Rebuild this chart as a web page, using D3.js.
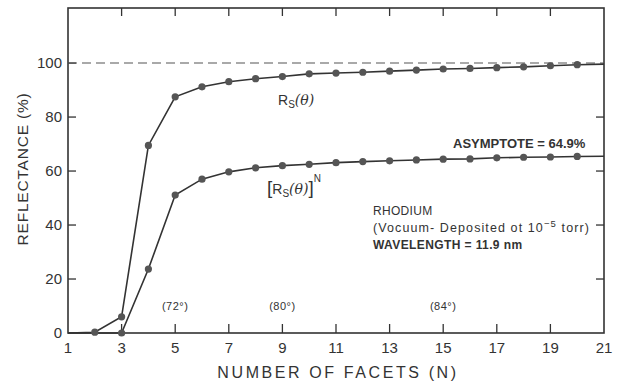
<!DOCTYPE html>
<html>
<head>
<meta charset="utf-8">
<script src="https://cdn.jsdelivr.net/npm/d3@7"></script>
<style>
  body { margin: 0; background: #fff; }
  svg text { font-family: "Liberation Sans", "DejaVu Sans", sans-serif; fill: #333; }
</style>
</head>
<body>
<script>
// Reflectance of a faceted rhodium mirror vs number of facets
var facets = [1, 2, 3, 4, 5, 6, 7, 8, 9, 10, 11, 12, 13, 14, 15, 16, 17, 18, 19, 20, 21];
// single reflection R_s(theta)
var rsSingle = [0, 0.3, 6, 69.5, 87.5, 91.2, 93.1, 94.2, 95, 96, 96.3, 96.6, 97, 97.4, 97.8, 98, 98.3, 98.6, 99, 99.4, 99.6];
// total reflectance [R_s(theta)]^N
var rsTotal = [0, 0, 0, 23.7, 51.1, 57, 59.7, 61.2, 62, 62.5, 63.1, 63.5, 63.8, 64.1, 64.4, 64.5, 64.9, 65.1, 65.2, 65.4, 65.5];
var markerFacets = [2, 3, 4, 5, 6, 7, 8, 9, 10, 11, 12, 13, 14, 15, 16, 17, 18, 19, 20];
var markerFacetsTotal = [3, 4, 5, 6, 7, 8, 9, 10, 11, 12, 13, 14, 15, 16, 17, 18, 19, 20];
var xTicks = [1, 3, 5, 7, 9, 11, 13, 15, 17, 19, 21];
var yTicks = [0, 20, 40, 60, 80, 100];
var angleLabels = [{n: 5, text: "(72°)"}, {n: 9, text: "(80°)"}, {n: 15, text: "(84°)"}];

var w = 625, h = 384;
// plot box (note: "top" is reserved on window, so prefix names)
var pLeft = 68, pRight = 604, pTop = 8, pBottom = 333;

var svg = d3.select("body").append("svg")
  .attr("width", w)
  .attr("height", h);

var x = d3.scaleLinear().domain([1, 21]).range([pLeft, pRight]);
var y = d3.scaleLinear().domain([0, 120.4]).range([pBottom, pTop]);

var ink = "#333";

// frame
svg.append("rect")
  .attr("x", pLeft).attr("y", pTop)
  .attr("width", pRight - pLeft).attr("height", pBottom - pTop)
  .attr("fill", "none").attr("stroke", ink).attr("stroke-width", 1.6);

// inner ticks on all four sides
var innerX = xTicks.filter(function(d) { return d > 1 && d < 21; });
svg.selectAll("line.bt").data(innerX).enter().append("line")
  .attr("x1", x).attr("x2", x)
  .attr("y1", pBottom).attr("y2", pBottom - 9)
  .attr("stroke", ink).attr("stroke-width", 1.3);
svg.selectAll("line.tt").data(innerX).enter().append("line")
  .attr("x1", x).attr("x2", x)
  .attr("y1", pTop).attr("y2", pTop + 8)
  .attr("stroke", ink).attr("stroke-width", 1.3);
var innerY = yTicks.filter(function(d) { return d > 0; });
svg.selectAll("line.lt").data(innerY).enter().append("line")
  .attr("x1", pLeft).attr("x2", pLeft + 8)
  .attr("y1", y).attr("y2", y)
  .attr("stroke", ink).attr("stroke-width", 1.3);
svg.selectAll("line.rt").data(innerY.filter(function(d) { return d < 100; })).enter().append("line")
  .attr("x1", pRight).attr("x2", pRight - 8)
  .attr("y1", y).attr("y2", y)
  .attr("stroke", ink).attr("stroke-width", 1.3);

// tick labels
svg.selectAll("text.xl").data(xTicks).enter().append("text")
  .attr("x", x).attr("y", pBottom + 20)
  .attr("text-anchor", "middle")
  .attr("font-size", 15)
  .text(function(d) { return d; });
svg.selectAll("text.yl").data(yTicks).enter().append("text")
  .attr("x", pLeft - 6).attr("y", function(d) { return y(d) + 5; })
  .attr("text-anchor", "end")
  .attr("font-size", 15)
  .text(function(d) { return d; });

// axis titles
svg.append("text")
  .attr("x", 338).attr("y", 378)
  .attr("text-anchor", "middle")
  .attr("font-size", 16)
  .attr("letter-spacing", 2.6)
  .text("NUMBER OF FACETS (N)");
svg.append("text")
  .attr("transform", "translate(28,169) rotate(-90)")
  .attr("text-anchor", "middle")
  .attr("font-size", 15.5)
  .attr("letter-spacing", 0.8)
  .text("REFLECTANCE (%)");

// 100% dashed reference
svg.append("line")
  .attr("x1", pLeft).attr("x2", pRight)
  .attr("y1", y(100)).attr("y2", y(100))
  .attr("stroke", "#555").attr("stroke-width", 1.1)
  .attr("stroke-dasharray", "9,5");

// curves
var line = d3.line()
  .x(function(d) { return x(d[0]); })
  .y(function(d) { return y(d[1]); });
var singleData = d3.zip(facets, rsSingle);
var totalData = d3.zip(facets, rsTotal);

svg.append("path").datum(singleData)
  .attr("d", line).attr("fill", "none")
  .attr("stroke", ink).attr("stroke-width", 1.6);
svg.append("path").datum(totalData)
  .attr("d", line).attr("fill", "none")
  .attr("stroke", ink).attr("stroke-width", 1.6);

svg.selectAll("circle.s").data(singleData.filter(function(d) { return markerFacets.indexOf(d[0]) >= 0; }))
  .enter().append("circle")
  .attr("cx", function(d) { return x(d[0]); })
  .attr("cy", function(d) { return y(d[1]); })
  .attr("r", 3.6).attr("fill", "#555");
svg.selectAll("circle.t").data(totalData.filter(function(d) { return markerFacetsTotal.indexOf(d[0]) >= 0; }))
  .enter().append("circle")
  .attr("cx", function(d) { return x(d[0]); })
  .attr("cy", function(d) { return y(d[1]); })
  .attr("r", 3.6).attr("fill", "#555");

// curve labels
var lab1 = svg.append("text").attr("x", 278).attr("y", 105).attr("font-size", 14);
lab1.append("tspan").text("R");
lab1.append("tspan").attr("font-size", 10).attr("dy", 3).text("S");
lab1.append("tspan").attr("dy", -3).attr("font-family", "DejaVu Serif").attr("font-style", "italic").text("(θ)");

var lab2 = svg.append("text").attr("x", 267).attr("y", 194).attr("font-size", 14);
lab2.append("tspan").attr("font-size", 19).text("[");
lab2.append("tspan").text("R");
lab2.append("tspan").attr("font-size", 10).attr("dy", 3).text("S");
lab2.append("tspan").attr("dy", -3).attr("font-family", "DejaVu Serif").attr("font-style", "italic").text("(θ)");
lab2.append("tspan").attr("font-size", 19).text("]");
lab2.append("tspan").attr("font-size", 10).attr("dy", -12).text("N");

svg.append("text")
  .attr("x", 453).attr("y", 148)
  .attr("font-size", 13).attr("font-weight", "bold")
  .text("ASYMPTOTE = 64.9%");

// material notes
svg.append("text").attr("x", 373).attr("y", 215).attr("font-size", 12).attr("letter-spacing", 0.3).text("RHODIUM");
var note = svg.append("text").attr("x", 373).attr("y", 232).attr("font-size", 12.5).attr("letter-spacing", 1.1);
note.append("tspan").text("(Vocuum- Deposited ot 10");
note.append("tspan").attr("font-size", 9.5).attr("dy", -5).text("−5");
note.append("tspan").attr("dy", 5).text("  torr)");
svg.append("text").attr("x", 373).attr("y", 249).attr("font-size", 12).attr("letter-spacing", 0.4).attr("font-weight", "bold").text("WAVELENGTH = 11.9 nm");

// facet angle labels
svg.selectAll("text.ang").data(angleLabels).enter().append("text")
  .attr("x", function(d) { return x(d.n); })
  .attr("y", 310)
  .attr("text-anchor", "middle")
  .attr("font-size", 11)
  .attr("letter-spacing", 0.5)
  .text(function(d) { return d.text; });
</script>
</body>
</html>
